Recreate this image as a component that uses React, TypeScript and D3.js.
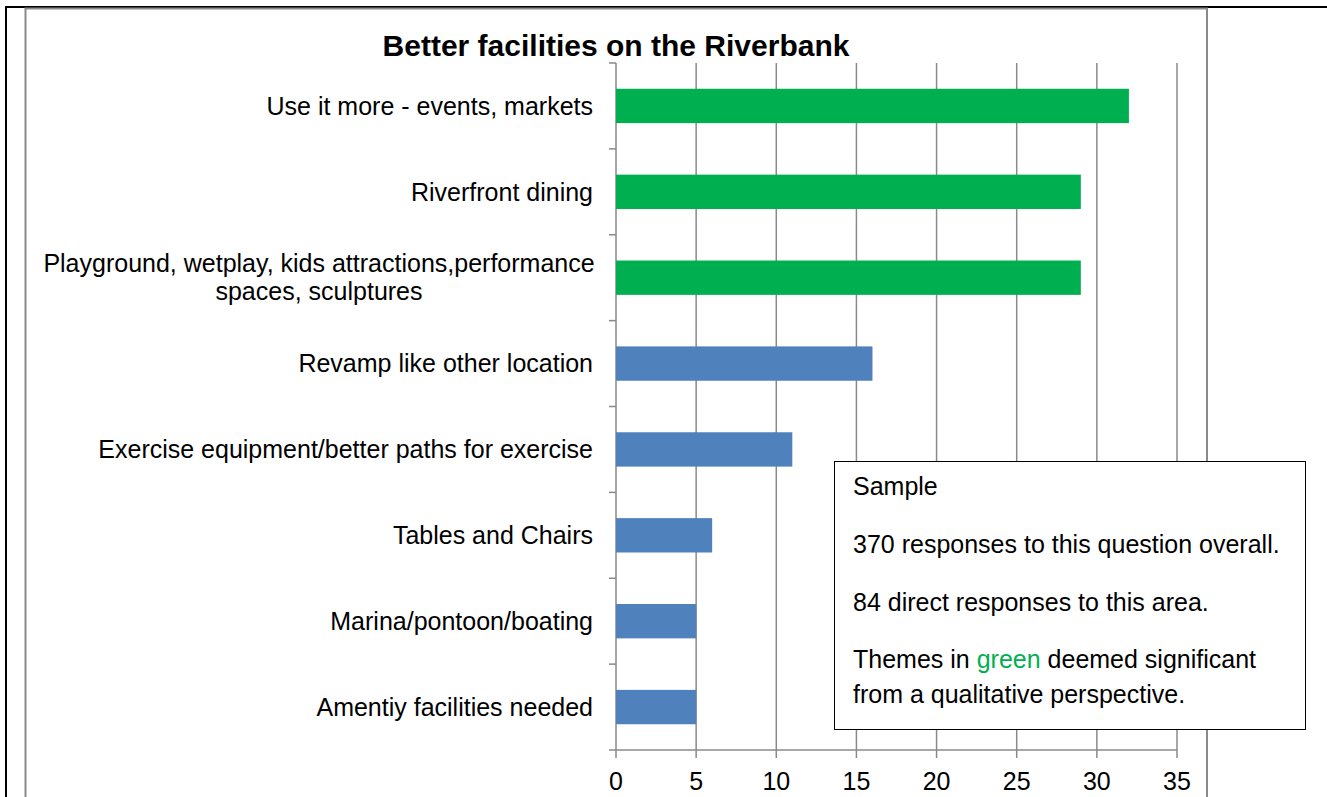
import React from "react";
import * as d3 from "d3";

const categories = [
  "Use it more - events, markets",
  "Riverfront dining",
  "Playground, wetplay, kids attractions,performance|spaces, sculptures",
  "Revamp like other location",
  "Exercise equipment/better paths for exercise",
  "Tables and Chairs",
  "Marina/pontoon/boating",
  "Amentiy facilities needed",
];
const values = [32, 29, 29, 16, 11, 6, 5, 5];
const significant = [true, true, true, false, false, false, false, false];
const xTicks = [0, 5, 10, 15, 20, 25, 30, 35];
const title = "Better facilities on the Riverbank";

const GREEN = "#00B050";
const BLUE = "#4F81BD";
const GRID = "#8a8a8a";
const FONT = "'Liberation Sans', Arial, sans-serif";

export default function App() {
  const W = 1327, H = 797;
  const x = d3.scaleLinear().domain([0, 35]).range([616, 1177]);
  const y = d3.scaleBand<string>().domain(categories).range([63, 750]).paddingInner(0.6).paddingOuter(0.3);
  const step = y.step();
  const boundaries = d3.range(categories.length + 1).map((i) => 63 + i * step);

  return (
    <svg width={W} height={H} style={{ position: "absolute", left: 0, top: 0, background: "#fff" }} fontFamily={FONT}>
      {/* page borders */}
      <line x1={5} x2={W} y1={7} y2={7} stroke="#000" strokeWidth={2} />
      <line x1={6} x2={6} y1={6} y2={H} stroke="#000" strokeWidth={2} />
      <rect x={25.5} y={8.5} width={1181.5} height={H} fill="none" stroke={GRID} strokeWidth={2} />

      {/* title */}
      <text x={616} y={56} textAnchor="middle" fontSize={30} fontWeight="bold" fill="#000">{title}</text>

      {/* gridlines */}
      {xTicks.map((t) => (
        <line key={"g" + t} x1={x(t)} x2={x(t)} y1={63} y2={758} stroke={GRID} strokeWidth={1.5} />
      ))}
      {/* x axis */}
      <line x1={x(0)} x2={x(35)} y1={750} y2={750} stroke={GRID} strokeWidth={1.5} />
      {/* y axis ticks */}
      {boundaries.map((b, i) => (
        <line key={"yt" + i} x1={609} x2={616} y1={b} y2={b} stroke={GRID} strokeWidth={1.5} />
      ))}

      {/* bars */}
      {categories.map((c, i) => (
        <rect key={"b" + i} x={x(0)} y={y(c)} width={x(values[i]) - x(0)} height={y.bandwidth()} fill={significant[i] ? GREEN : BLUE} />
      ))}

      {/* category labels */}
      {categories.map((c, i) => {
        const lines = c.split("|");
        const cy = (y(c) as number) + y.bandwidth() / 2;
        const lh = 28;
        const start = cy - ((lines.length - 1) * lh) / 2;
        return (
          <text key={"l" + i} fontSize={25} fill="#000" textAnchor={lines.length > 1 ? "middle" : "end"}>
            {lines.map((ln, j) => (
              <tspan key={j} x={lines.length > 1 ? 319 : 593} y={start + j * lh} dy="0.35em">{ln}</tspan>
            ))}
          </text>
        );
      })}

      {/* x tick labels */}
      {xTicks.map((t) => (
        <text key={"xl" + t} x={x(t)} y={790} textAnchor="middle" fontSize={25} fill="#000">{t}</text>
      ))}

      {/* note box */}
      <rect x={834.5} y={461.5} width={471} height={268} fill="#fff" stroke="#000" strokeWidth={1} />
      <g fontSize={25} fill="#000">
        <text x={853} y={495}>Sample</text>
        <text x={853} y={553}>370 responses to this question overall.</text>
        <text x={853} y={611}>84 direct responses to this area.</text>
        <text x={853} y={668}>Themes in <tspan fill={GREEN}>green</tspan> deemed significant</text>
        <text x={853} y={703}>from a qualitative perspective.</text>
      </g>
    </svg>
  );
}
